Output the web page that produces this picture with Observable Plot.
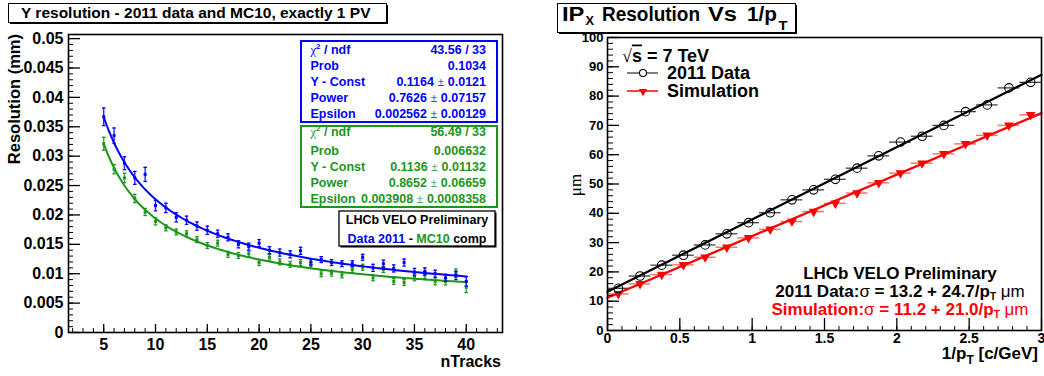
<!DOCTYPE html>
<html><head><meta charset="utf-8">
<script src="https://cdn.jsdelivr.net/npm/d3@7"></script>
<script src="https://cdn.jsdelivr.net/npm/@observablehq/plot@0.6"></script>
<style>
body{margin:0;background:#fff;}
#root{position:relative;width:1044px;height:376px;overflow:hidden;}
#root svg{position:absolute;top:0;}
</style></head>
<body><div id="root"></div>
<script>
// ---------- Left panel data ----------
const nTracks = [5,6,7,8,9,10,11,12,13,14,15,16,17,18,19,20,21,22,23,24,25,26,27,28,29,30,31,32,33,34,35,36,37,38,39,40];
const dataRes = [0.0367,0.0335,0.0288,0.0263,0.0269,0.0216,0.0212,0.0196,0.0191,0.0181,0.0174,0.0168,0.0162,0.0150,0.0146,0.0152,0.0140,
                 0.0136,0.0133,0.0139,0.0120,0.0124,0.0119,0.0117,0.0117,0.0128,0.0110,0.0117,0.0109,0.0119,0.0103,0.0104,0.0100,0.0093,0.0097,0.0087];
const dataErr = [0.0015,0.0013,0.0011,0.0011,0.0012,0.0009,0.0008,0.0008,0.0007,0.0007,0.0007,0.0006,0.0006,0.0006,0.0006,0.0006,0.0006,
                 0.0006,0.0006,0.0006,0.0005,0.0005,0.0005,0.0005,0.0005,0.0005,0.0006,0.0006,0.0006,0.0006,0.0006,0.0006,0.0006,0.0006,0.0007,0.0008];
const mcRes   = [0.0321,0.0278,0.0263,0.0228,0.0205,0.0189,0.0178,0.0171,0.0168,0.0158,0.0148,0.0152,0.0133,0.0131,0.0134,0.0119,0.0128,
                 0.0120,0.0116,0.0119,0.0114,0.0100,0.0101,0.0098,0.0107,0.0111,0.0093,0.0107,0.0087,0.0085,0.0094,0.0098,0.0087,0.0087,0.0101,0.0077];
const mcErr   = [0.0011,0.0008,0.0008,0.0007,0.0006,0.0006,0.0005,0.0005,0.0005,0.0005,0.0005,0.0005,0.0005,0.0005,0.0005,0.0005,0.0005,
                 0.0005,0.0005,0.0005,0.0005,0.0005,0.0005,0.0005,0.0005,0.0005,0.0005,0.0005,0.0005,0.0005,0.0006,0.0006,0.0006,0.0006,0.0007,0.0009];
// fit parameters (from the stat boxes): f(n) = Const * n^-Power + Epsilon
const fitConst = [0.1164, 0.1136];
const fitPower = [0.7626, 0.8652];
const fitEps   = [0.002562, 0.003908];
const statLabels = ["χ² / ndf","Prob","Y - Const","Power","Epsilon"];
const dataStats = ["43.56 / 33","0.1034","0.1164 ± 0.0121","0.7626 ± 0.07157","0.002562 ± 0.00129"];
const mcStats   = ["56.49 / 33","0.006632","0.1136 ± 0.01132","0.8652 ± 0.06659","0.003908 ± 0.0008358"];
const leftXTicks = [5,10,15,20,25,30,35,40];
const leftXLabels = ["5","10","15","20","25","30","35","40"];
const leftYTicks = [0,0.005,0.01,0.015,0.02,0.025,0.03,0.035,0.04,0.045,0.05];
const leftYLabels = ["0","0.005","0.01","0.015","0.02","0.025","0.03","0.035","0.04","0.045","0.05"];

// ---------- Right panel data ----------
const invPt   = [0.075,0.225,0.375,0.525,0.675,0.825,0.975,1.125,1.275,1.425,1.575,1.725,1.875,2.025,2.175,2.325,2.475,2.625,2.775,2.925];
const binHalf = 0.075;
const ipData  = [14.4,18.6,22.3,25.7,29.2,33.0,36.8,40.2,44.6,48.0,51.6,55.4,59.6,64.3,66.3,70.0,74.7,77.0,82.8,84.7];
const ipSim   = [12.5,15.9,19.1,22.4,25.0,28.4,31.6,34.5,37.2,40.6,43.4,46.9,50.4,53.7,57.1,60.3,63.7,66.6,70.0,73.6];
const lineIntercept = [13.2, 11.2];
const lineSlope     = [24.7, 21.0];
const rightXTicks = [0,0.5,1,1.5,2,2.5,3];
const rightXLabels = ["0","0.5","1","1.5","2","2.5","3"];
const rightYTicks = [0,10,20,30,40,50,60,70,80,90,100];
const rightYLabels = ["0","10","20","30","40","50","60","70","80","90","100"];

// ---------- styling ----------
const FONT = '"Liberation Sans", Arial, Helvetica, sans-serif';
const SERIF = '"Liberation Serif", "DejaVu Serif", serif';
const BLUE = "#0000ff", GREEN = "#1c961c", RED = "#ff0000";

const pts = (ys, es) => nTracks.map((n, i) => ({n, y: ys[i], e: es[i]}));
const blueP = pts(dataRes, dataErr), greenP = pts(mcRes, mcErr);
const fitCurve = k => d3.range(5, 40.001, 0.25).map(n => ({n, y: fitConst[k] * Math.pow(n, -fitPower[k]) + fitEps[k]}));
const cap = {draw(ctx, size) { const w = Math.sqrt(size) / 2; ctx.moveTo(-w, 0); ctx.lineTo(w, 0); }};
const fmt = (ticks, labels) => d => labels[ticks.indexOf(d)];

function seriesMarks(P, k, color) {
  return [
    Plot.ruleX(P, {x: "n", y1: d => d.y - d.e, y2: d => d.y + d.e, stroke: color, strokeWidth: 1.4, strokeOpacity: 0.85}),
    Plot.dot(P, {x: "n", y: d => d.y - d.e, symbol: cap, r: 2, stroke: color, strokeWidth: 1.3}),
    Plot.dot(P, {x: "n", y: d => d.y + d.e, symbol: cap, r: 2, stroke: color, strokeWidth: 1.3}),
    Plot.line(fitCurve(k), {x: "n", y: "y", stroke: color, strokeWidth: 2, curve: "linear"}),
    Plot.dot(P, {x: "n", y: "y", symbol: "square", r: 1.7, fill: color})
  ];
}

const leftPlot = Plot.plot({
  width: 520, height: 376,
  marginLeft: 68, marginRight: 18, marginTop: 34, marginBottom: 44,
  style: {fontFamily: FONT, fontWeight: "bold", fontSize: "16px", background: "none", color: "#000", overflow: "visible"},
  x: {domain: [1.6, 43.5], label: null},
  y: {domain: [0, 0.0507], label: null},
  marks: [
    ...seriesMarks(greenP, 1, GREEN),
    ...seriesMarks(blueP, 0, BLUE),
    Plot.axisX({ticks: leftXTicks, tickFormat: fmt(leftXTicks, leftXLabels), tickSize: 0, tickPadding: 6, label: null}),
    Plot.axisX({ticks: leftXTicks, tickSize: -8, fill: "none", label: null, strokeWidth: 1.3}),
    Plot.axisX({ticks: d3.range(2, 44, 1), tickSize: -4, fill: "none", label: null}),
    Plot.axisY({ticks: leftYTicks, tickFormat: fmt(leftYTicks, leftYLabels), tickSize: 0, tickPadding: 5, label: null}),
    Plot.axisY({ticks: leftYTicks, tickSize: -12, fill: "none", label: null, strokeWidth: 1.3}),
    Plot.axisY({ticks: d3.range(0, 0.0505, 0.001), tickSize: -5, fill: "none", label: null}),
    Plot.frame({stroke: "#000", strokeWidth: 1.6})
  ]
});
leftPlot.style.left = "0px";

const ipRows = (ys) => invPt.map((x, i) => ({x, y: ys[i]}));
const dataRows = ipRows(ipData), simRows = ipRows(ipSim);
const fitLine = k => [0, 3].map(x => ({x, y: lineIntercept[k] + lineSlope[k] * x}));

const rightPlot = Plot.plot({
  width: 524, height: 376,
  marginLeft: 87, marginRight: 3, marginTop: 37, marginBottom: 46,
  style: {fontFamily: FONT, fontWeight: "bold", fontSize: "14px", background: "none", color: "#000", overflow: "visible"},
  x: {domain: [0, 3], label: null},
  y: {domain: [0, 100], label: null},
  marks: [
    Plot.ruleY(simRows, {y: "y", x1: d => d.x - binHalf, x2: d => d.x + binHalf, stroke: RED, strokeOpacity: 0.55, strokeWidth: 1.5}),
    Plot.ruleY(dataRows, {y: "y", x1: d => d.x - binHalf, x2: d => d.x + binHalf, stroke: "#000", strokeOpacity: 0.75, strokeWidth: 1.3}),
    Plot.line(fitLine(1), {x: "x", y: "y", stroke: RED, strokeWidth: 2.3}),
    Plot.line(fitLine(0), {x: "x", y: "y", stroke: "#000", strokeWidth: 2.3}),
    Plot.dot(simRows, {x: "x", y: "y", symbol: "triangle", rotate: 180, r: 3.6, fill: RED}),
    Plot.dot(dataRows, {x: "x", y: "y", symbol: "circle", r: 4.3, stroke: "#000", strokeWidth: 1.1, fill: "none"}),
    Plot.axisX({ticks: rightXTicks, tickFormat: fmt(rightXTicks, rightXLabels), tickSize: 0, tickPadding: 3, label: null}),
    Plot.axisX({ticks: rightXTicks, tickSize: -12, fill: "none", label: null, strokeWidth: 1.3}),
    Plot.axisX({ticks: d3.range(0, 3.01, 0.1), tickSize: -4, fill: "none", label: null}),
    Plot.axisY({ticks: rightYTicks, tickFormat: fmt(rightYTicks, rightYLabels), tickSize: 0, tickPadding: 4, label: null, fontSize: 13}),
    Plot.axisY({ticks: rightYTicks, tickSize: -12, fill: "none", label: null, strokeWidth: 1.3}),
    Plot.axisY({ticks: d3.range(0, 100.1, 2), tickSize: -6, fill: "none", label: null}),
    Plot.frame({stroke: "#000", strokeWidth: 1.6})
  ]
});
rightPlot.style.left = "520px";

const root = document.getElementById("root");
root.appendChild(leftPlot);
root.appendChild(rightPlot);

// ---------- annotations overlay ----------
const ov = d3.select(root).append("svg").attr("width", 1044).attr("height", 376)
  .style("left", "0px").style("font-family", FONT).style("font-weight", "bold");

function box(x, y, w, h, stroke, sw, shadow) {
  if (shadow) ov.append("rect").attr("x", x + shadow).attr("y", y + shadow).attr("width", w).attr("height", h).attr("fill", "#000");
  ov.append("rect").attr("x", x).attr("y", y).attr("width", w).attr("height", h)
    .attr("fill", "#fff").attr("stroke", stroke).attr("stroke-width", sw);
}
function text(x, y, html, size, anchor = "start", color = "#000") {
  return ov.append("text").attr("x", x).attr("y", y).attr("font-size", size)
    .attr("text-anchor", anchor).attr("fill", color).html(html);
}
const sym = s => `<tspan font-family='${SERIF}' font-weight="normal">${s}</tspan>`;
const pm = s => s.replace("±", sym("±"));
const chi = `${sym("χ")}<tspan font-size="8" dy="-5">2</tspan><tspan dy="5"> / ndf</tspan>`;

// left title
box(8.5, 3.5, 378, 19, "#000", 1, 1.5);
text(21, 18.3, "Y resolution - 2011 data and MC10, exactly 1 PV", 15.5);

// stat boxes
function statBox(y0, h, color, values, baselines) {
  box(301, y0, 196, h, color, 2);
  statLabels.forEach((l, i) => {
    text(310.5, baselines[i], i === 0 ? chi : l, 12.5, "start", color);
    text(486, baselines[i], pm(values[i]), 12.5, "end", color);
  });
}
statBox(41, 81, BLUE, dataStats, [53.8, 70.2, 86.2, 102.2, 117.8]);
statBox(126, 81, GREEN, mcStats, [136.2, 154.5, 171.2, 187.2, 202.8]);

// LHCb box (left)
box(339, 211, 156, 35, "#000", 1.3, 1.5);
text(417, 223.8, "LHCb VELO Preliminary", 12.5, "middle");
text(417, 242.8, `<tspan fill="${BLUE}">Data 2011</tspan> - <tspan fill="${GREEN}">MC10</tspan> comp`, 12.5, "middle");

// left axis titles
text(501, 367, "nTracks", 16, "end");
ov.append("text").attr("transform", "translate(20,34) rotate(-90)").attr("text-anchor", "end")
  .attr("font-size", 16.5).text("Resolution (mm)");

// right title (segments placed as in the reference)
box(557.5, 3.5, 238, 29, "#000", 1, 1.5);
const seg = (x, y, s, size, len) => text(x, y, s, size).attr("textLength", len).attr("lengthAdjust", "spacingAndGlyphs");
seg(562, 21, "IP", 20, 22.5);
seg(585.5, 25, "X", 12, 8.5);
seg(602, 21, "Resolution", 19.5, 98);
seg(708, 21, "Vs", 19.5, 29);
seg(747, 21, "1/p", 19.5, 30);
seg(778.5, 30, "T", 13, 9);

// right legend
text(622, 61.5, `${sym("√")}<tspan text-decoration="overline">s</tspan> = 7 TeV`, 18);
ov.append("line").attr("x1", 627).attr("x2", 658).attr("y1", 73).attr("y2", 73).attr("stroke", "#555").attr("stroke-width", 1.5);
ov.append("circle").attr("cx", 643).attr("cy", 73).attr("r", 3.5).attr("fill", "#fff").attr("stroke", "#000").attr("stroke-width", 1.1);
text(667, 79.2, "2011 Data", 18);
ov.append("line").attr("x1", 627).attr("x2", 658).attr("y1", 91).attr("y2", 91).attr("stroke", RED).attr("stroke-width", 1.5);
ov.append("path").attr("d", d3.symbol(d3.symbolTriangle, 30)()).attr("transform", "translate(643,91.5) rotate(180)").attr("fill", RED);
text(667, 97.2, "Simulation", 18);

// right bottom texts
const sym2 = s => `<tspan font-family='${FONT}' font-weight="normal">${s}</tspan>`;
text(900, 278.5, "LHCb VELO Preliminary", 17, "middle");
text(900, 296.5, `2011 Data:${sym2("σ")} = 13.2 + 24.7/p<tspan font-size="10" dy="3">T</tspan><tspan dy="-3"> </tspan>${sym2("μm")}`, 17, "middle");
text(900, 314.5, `Simulation:${sym2("σ")} = 11.2 + 21.0/p<tspan font-size="10" dy="3">T</tspan><tspan dy="-3"> </tspan>${sym2("μm")}`, 17, "middle", RED);

// right axis titles
text(1038, 359, `1/p<tspan font-size="12" dy="5">T</tspan><tspan dy="-5"> [c/GeV]</tspan>`, 17, "end");
ov.append("text").attr("transform", "translate(581,185) rotate(-90)").attr("text-anchor", "middle")
  .attr("font-size", 17).attr("font-family", SERIF).attr("font-weight", "normal").text("μm");
</script>
</body></html>
